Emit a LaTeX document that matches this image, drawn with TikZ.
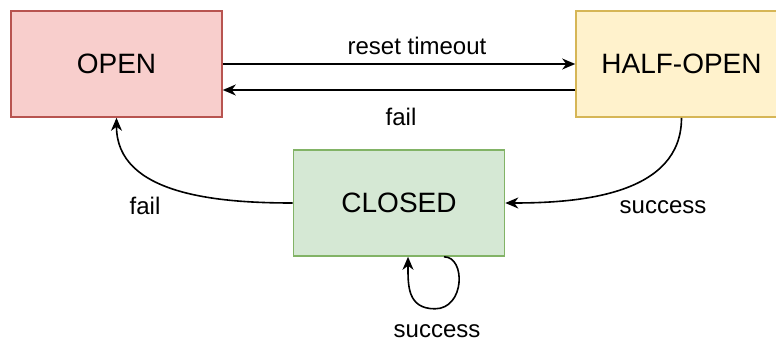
\documentclass[tikz,border=0pt]{standalone}
\usepackage{fontspec}
\setmainfont{Liberation Sans}
\usetikzlibrary{arrows.meta}
\begin{document}
\begin{tikzpicture}[x=1pt,y=1pt,
	state/.style={rectangle,draw,line width=1.6pt,minimum width=211pt,minimum height=106pt,
	inner sep=0,font=\fontsize{28}{34}\selectfont},
	flow/.style={line width=1.6pt,-{Stealth[length=13pt,width=11pt,inset=4pt]}},
	lbl/.style={font=\fontsize{24}{29}\selectfont,inner sep=0}]
\definecolor{openfill}{HTML}{F8CECC}\definecolor{openline}{HTML}{B85450}
\definecolor{halffill}{HTML}{FFF2CC}\definecolor{halfline}{HTML}{D6B656}
\definecolor{closedfill}{HTML}{D5E8D4}\definecolor{closedline}{HTML}{82B366}
\useasboundingbox (0,0) rectangle (776,-345);
\node[state,fill=openfill,draw=openline] (open) at (116.5,-64) {OPEN};
\node[state,fill=halffill,draw=halfline] (half) at (681.5,-64) {HALF-OPEN};
\node[state,fill=closedfill,draw=closedline] (closed) at (399,-203) {CLOSED};
\draw[flow] (open.east) -- (half.west)
	node[lbl,midway,above=8pt,xshift=18pt] {reset timeout};
\draw[flow] ([yshift=-26]half.west) -- ([yshift=-26]open.east)
	node[lbl,midway,below=17pt,xshift=2pt] {fail};
\draw[flow] (closed.west) to[out=180,in=-90] (open.south);
\node[lbl] (failc) at (145,-206) {fail};
\draw[flow] (half.south) to[out=-90,in=0] (closed.east);
\node[lbl] (succh) at (663,-207) {success};
\draw[flow] ([xshift=45]closed.south) .. controls +(22,0) and +(30,0) .. ([xshift=36,yshift=-52]closed.south)
	.. controls +(-28,0) and +(0,-28) .. ([xshift=9]closed.south);
\node[lbl] (succc) at (437,-331) {success};
\end{tikzpicture}
\end{document}
